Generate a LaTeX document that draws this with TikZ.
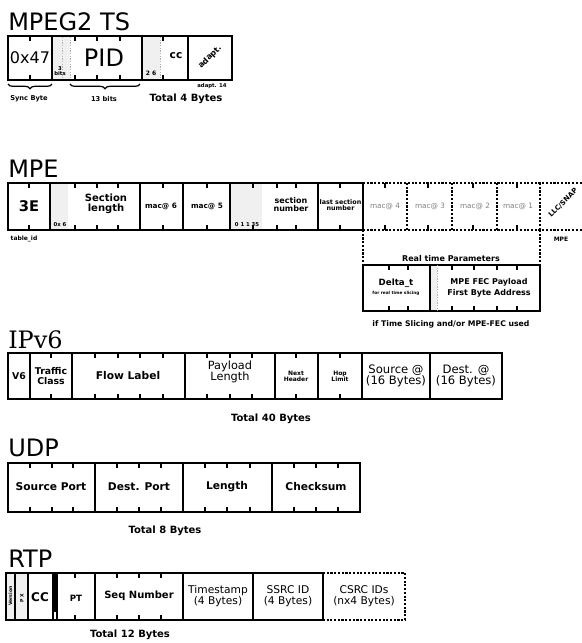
\documentclass[tikz,border=0pt]{standalone}
\usepackage{fontspec}
\setmainfont{DejaVu Sans}
\newfontfamily\serifttl{DejaVu Serif}
\usetikzlibrary{decorations.pathreplacing}
\newcommand\tickrow[3]{\foreach \t in {#3} {\draw[tk] (\t,#1) -- ++(0,5); \draw[tk] (\t,#2) -- ++(0,-5);}}
\newcommand\fs[1]{\fontsize{#1}{#1}\selectfont}
\begin{document}
\begin{tikzpicture}[x=0.75pt,y=-0.75pt,
  box/.style={line width=1.4pt},
  sep/.style={line width=1.2pt},
  tk/.style={line width=0.9pt},
  dsep/.style={line width=0.9pt, dash pattern=on 1.6pt off 1.2pt},
  gsep/.style={line width=0.6pt, gray!60, dash pattern=on 1pt off 1pt},
  shade/.style={fill=gray!12},
  ttl/.style={anchor=base west, inner sep=0, font=\fs{18}},
  lb/.style={inner sep=0, align=center, font=\bfseries\fs{8}},
  tiny/.style={inner sep=0, align=center, font=\bfseries\fs{4}},
  rg/.style={inner sep=0, align=center, font=\fs{8}},
  brc/.style={decorate, decoration={brace,mirror,amplitude=3.5pt}, line width=0.9pt}
]
\useasboundingbox (0,0) rectangle (582,643);

%% ================= MPEG2 TS =================
\node[ttl] (t1) at (8,30) {MPEG2 TS};
\fill[shade] (53,37) rectangle (70,79);
\fill[shade] (143,37) rectangle (160,79);
\draw[gsep] (62,37) -- (62,79);
\draw[gsep] (70,37) -- (70,79);
\draw[gsep] (160,37) -- (160,79);
\draw[box] (8,36) rectangle (232,80);
\foreach \x in {52,142,188} \draw[sep] (\x,36) -- (\x,80);
\tickrow{36}{80}{30,75,97,120,163}
\node[rg, font=\fs{12}] (sync) at (30,58) {0x47};
\node[rg, font=\fs{18}] (pid) at (104,58) {PID};
\node[tiny] (pidb) at (60,71) {3\\bits};
\node[lb] (cc) at (176,56) {cc};
\node[tiny, font=\bfseries\fs{4.5}] (scb) at (151,73) {2 6};
\node[lb, font=\bfseries\fs{6}, rotate=45] (afc) at (210,57) {adapt.};
\node[tiny] (afcb) at (212,86) {adapt. 14};
\draw[brc] (8,84) -- (52,84);
\draw[brc] (70,84) -- (140,84);
\node[tiny, font=\bfseries\fs{5}] (syncl) at (29,99) {Sync Byte};
\node[tiny, font=\bfseries\fs{5}] (pidl) at (104,99) {13 bits};
\node[lb, font=\bfseries\fs{7.5}] (tot1) at (186,99) {Total 4 Bytes};

%% ================= MPE =================
\node[ttl] (t2) at (8,177) {MPE};
\fill[shade] (51,184) rectangle (68,229);
\fill[shade] (231,184) rectangle (262,229);
\draw[box] (363,183) -- (8,183) -- (8,230) -- (363,230);
\draw[dsep] (363,183) -- (582,183);
\draw[dsep] (363,230) -- (582,230);
\foreach \x in {50,140,183,230,318,363} \draw[sep] (\x,183) -- (\x,230);
\foreach \x in {407,452,497,540} \draw[dsep] (\x,183) -- (\x,230);
\tickrow{183}{230}{29,75,97,118,163,207,253,277,296,340,385,428,473,517}
\node[lb, font=\bfseries\fs{11}] (tid) at (29,206) {3E};
\node[lb, font=\bfseries\fs{7.5}] (slen) at (106,204) {Section\\length};
\node[tiny] (slenb) at (60,225) {0x 6};
\node[lb, font=\bfseries\fs{5.5}] (m6) at (161,206) {mac@ 6};
\node[lb, font=\bfseries\fs{5.5}] (m5) at (207,206) {mac@ 5};
\node[lb, font=\bfseries\fs{6}] (snum) at (291,205) {section\\number};
\node[tiny] (snumb) at (247,225) {0 1 1 35};
\node[lb, font=\bfseries\fs{4.8}] (lsn) at (340.5,205) {last section\\number};
\node[rg, font=\fs{5.5}, gray] (m4) at (385,206) {mac@ 4};
\node[rg, font=\fs{5.5}, gray] (m3) at (430,206) {mac@ 3};
\node[rg, font=\fs{5.5}, gray] (m2) at (475,206) {mac@ 2};
\node[rg, font=\fs{5.5}, gray] (m1) at (518,206) {mac@ 1};
\node[lb, font=\bfseries\fs{5.2}, rotate=45] (llc) at (563,203) {LLC/SNAP};
\node[tiny, font=\bfseries\fs{4.5}] (tidl) at (24,239) {table\_id};
\node[tiny, font=\bfseries\fs{4.5}] (mpel) at (561,239) {MPE};
\coordinate (rl) at (363,265);
\coordinate (rr) at (540,265);
\draw[dsep] (363,230) -- (rl);
\draw[dsep] (540,230) -- (rr);
\node[lb, font=\bfseries\fs{6}] (rtp) at (451,259) {Real time Parameters};
\fill[shade] (431,266) rectangle (437,310);
\draw[box] (363,265) rectangle (540,311);
\draw[sep] (430,265) -- (430,311);
\draw[gsep] (437,265) -- (437,311);
\tickrow{265}{311}{389,408,452,474,497,517}
\node[lb, font=\bfseries\fs{6.5}] (dt) at (396,283) {Delta\_t};
\node[tiny, font=\bfseries\fs{3.2}] (dtb) at (396,293) {for real time slicing};
\node[lb, font=\bfseries\fs{6}, align=center] (fec) at (489,288) {MPE FEC Payload\\[2pt]First Byte Address};
\node[lb, font=\bfseries\fs{5.8}] (ifts) at (451,324) {if Time Slicing and/or MPE-FEC used};

%% ================= IPv6 =================
\node[ttl, font=\serifttl\fs{18}] (t3) at (8,348) {IPv6};
\draw[box] (8,353) rectangle (502,399);
\foreach \x in {30,72,185,275,318,362,430} \draw[sep] (\x,353) -- (\x,399);
\tickrow{353}{399}{51,95,118,140,163,207,230,252,296,340}
\node[lb, font=\bfseries\fs{7}] (v6) at (19,376) {V6};
\node[lb, font=\bfseries\fs{7}] (tc) at (51,376) {Traffic\\Class};
\node[lb, font=\bfseries\fs{8}] (fl) at (128,376) {Flow Label};
\node[rg, font=\fs{8.5}] (pl) at (230,372) {Payload\\Length};
\node[lb, font=\bfseries\fs{4.5}] (nh) at (296,376) {Next\\Header};
\node[lb, font=\bfseries\fs{4.5}] (hl) at (340,376) {Hop\\Limit};
\node[rg, font=\fs{8.7}] (src) at (396,376) {Source @\\(16 Bytes)};
\node[rg, font=\fs{8.7}] (dst) at (466,376) {Dest. @\\(16 Bytes)};
\node[lb, font=\bfseries\fs{7.5}] (tot3) at (271,419) {Total 40 Bytes};

%% ================= UDP =================
\node[ttl] (t4) at (8,456) {UDP};
\draw[box] (8,463) rectangle (360,512);
\foreach \x in {95,183,272} \draw[sep] (\x,463) -- (\x,512);
\tickrow{463}{512}{30,52,73,117,139,161,205,227,250,294,316,338}
\node[lb] (sp) at (51,487) {Source Port};
\node[lb] (dp) at (139,487) {Dest. Port};
\node[lb] (len) at (227,487) {Length};
\node[lb] (cks) at (316,487) {Checksum};
\node[lb, font=\bfseries\fs{7.5}] (tot4) at (165,531) {Total 8 Bytes};

%% ================= RTP =================
\node[ttl] (t5) at (8,567) {RTP};
\fill[shade] (7,574) rectangle (15,619);
\fill[shade] (16,574) rectangle (28,619);
\fill[black] (53,574) rectangle (57,612);
\draw[box] (6,573) rectangle (323,620);
\foreach \x in {15,28,53,57,95,183,253} \draw[sep] (\x,573) -- (\x,620);
\draw[dsep] (323,573) -- (405,573) -- (405,620) -- (323,620);
\tickrow{573}{620}{75,117,139,161}
\node[tiny, font=\bfseries\fs{3.5}, rotate=90] (ver) at (10.5,596) {Version};
\node[tiny, font=\bfseries\fs{3.5}, rotate=90] (px) at (22,598) {P X};
\node[lb, font=\bfseries\fs{9}] (rcc) at (40,597) {CC};
\node[lb, font=\bfseries\fs{6.5}] (pt) at (76,598) {PT};
\node[lb, font=\bfseries\fs{7.5}] (seq) at (139,596) {Seq Number};
\node[rg] (ts) at (218,596) {Timestamp\\(4 Bytes)};
\node[rg] (ssrc) at (288,596) {SSRC ID\\(4 Bytes)};
\node[rg] (csrc) at (364,596) {CSRC IDs\\(nx4 Bytes)};
\node[lb, font=\bfseries\fs{7.5}] (tot5) at (130,635) {Total 12 Bytes};
\end{tikzpicture}
\end{document}
